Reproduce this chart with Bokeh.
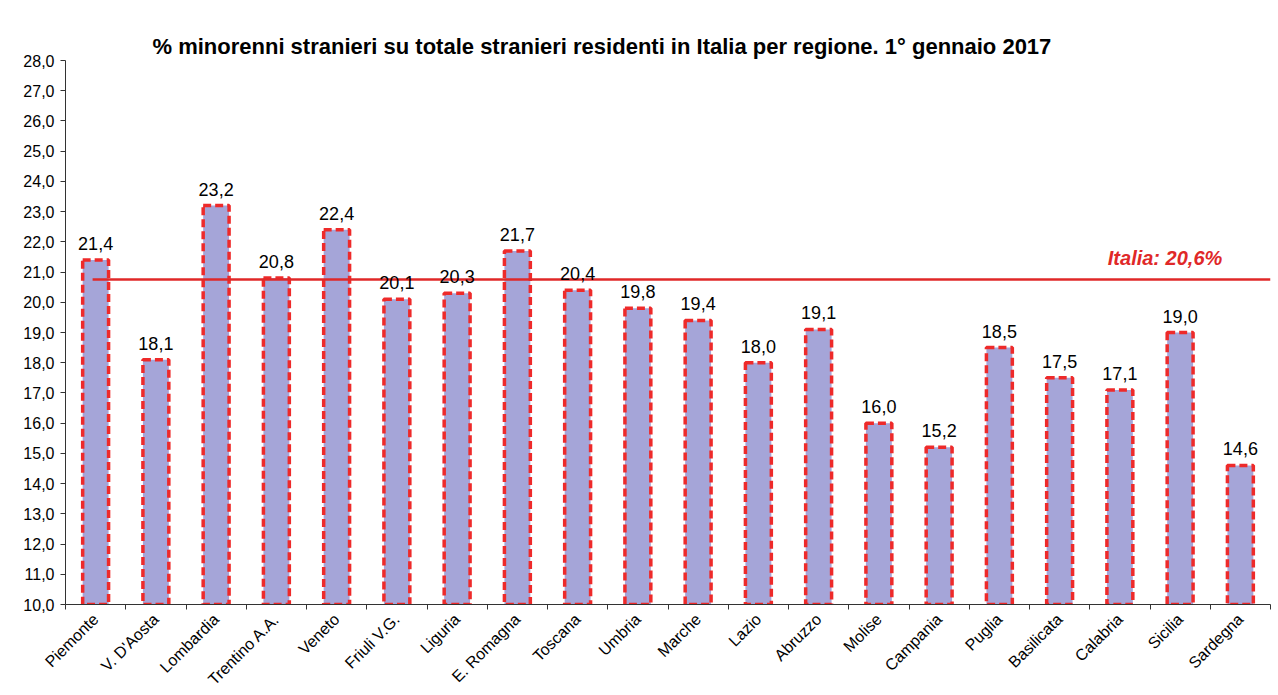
from bokeh.plotting import figure
from bokeh.models import ColumnDataSource, FixedTicker, CustomJSTickFormatter, Label, Range1d
from bokeh.embed import file_html
from bokeh.resources import INLINE
from bokeh.core.properties import value
import math

regions = ["Piemonte", "V. D'Aosta", "Lombardia", "Trentino A.A.", "Veneto", "Friuli V.G.",
           "Liguria", "E. Romagna", "Toscana", "Umbria", "Marche", "Lazio", "Abruzzo",
           "Molise", "Campania", "Puglia", "Basilicata", "Calabria", "Sicilia", "Sardegna"]
values = [21.4, 18.1, 23.2, 20.8, 22.4, 20.1, 20.3, 21.7, 20.4, 19.8, 19.4, 18.0, 19.1,
          16.0, 15.2, 18.5, 17.5, 17.1, 19.0, 14.6]
italia_value = 20.6
italia_line_level = 20.75
title_text = "% minorenni stranieri su totale stranieri residenti in Italia per regione. 1° gennaio 2017"

n = len(regions)
xs = [i + 0.5 for i in range(n)]
src = ColumnDataSource(dict(x=xs, top=values, bottom=[10.0] * n,
                            lab=[f"{v:.1f}".replace(".", ",") for v in values]))

p = figure(frame_width=1205, frame_height=544, output_backend="svg", toolbar_location=None,
           x_range=Range1d(0, n), y_range=Range1d(10, 28),
           min_border_left=65, min_border_right=2, min_border_top=60, min_border_bottom=4)
p.title.text = title_text
p.title.text_font = "Liberation Sans"
p.title.text_font_size = "22px"
p.title.text_font_style = "bold"
p.title.text_color = "black"
p.title.align = "left"
p.title.offset = 87
p.title.standoff = 4

p.outline_line_color = None
p.xgrid.visible = False
p.ygrid.visible = False
p.background_fill_color = "white"
p.border_fill_color = "white"

p.vbar(x="x", top="top", bottom="bottom", width=0.43, source=src,
       fill_color="#a5a5d8", line_color="#ee2a2a", line_width=3.5, line_dash="8 4")

p.line(x=[0.45, n], y=[italia_line_level, italia_line_level], line_color="#e02828", line_width=2.5)

p.text(x="x", y="top", text="lab", source=src, text_align="center", text_baseline="bottom",
       y_offset=-10, text_font=value("Liberation Sans"), text_font_size="18px", text_color="black")

lab_it = Label(x=19.2, y=italia_line_level, text="Italia: " + f"{italia_value:.1f}".replace(".", ",") + "%",
               text_align="right", text_baseline="bottom", y_offset=11,
               text_font="Liberation Sans", text_font_size="20px", text_font_style="bold italic",
               text_color="#e02828")
p.add_layout(lab_it)

# y axis
p.yaxis.ticker = FixedTicker(ticks=list(range(10, 29)))
p.yaxis.formatter = CustomJSTickFormatter(code="return tick.toFixed(1).replace('.', ',');")
p.yaxis.major_label_text_font = "Liberation Sans"
p.yaxis.major_label_text_font_size = "16px"
p.yaxis.major_label_text_color = "black"
p.yaxis.axis_line_color = "#333333"
p.yaxis.major_tick_line_color = "#333333"
p.yaxis.major_tick_in = 0
p.yaxis.major_tick_out = 5
p.yaxis.minor_tick_line_color = None
p.yaxis.major_label_standoff = 6

# x axis
p.xaxis.ticker = FixedTicker(ticks=xs, minor_ticks=list(range(0, n + 1)))
p.xaxis.major_label_overrides = {x: r for x, r in zip(xs, regions)}
p.xaxis.major_label_orientation = math.pi / 4
p.xaxis.major_label_text_font = "Liberation Sans"
p.xaxis.major_label_text_font_size = "16px"
p.xaxis.major_label_text_color = "black"
p.xaxis.axis_line_color = "#333333"
p.xaxis.major_tick_line_color = None
p.xaxis.minor_tick_line_color = "#333333"
p.xaxis.minor_tick_in = 0
p.xaxis.minor_tick_out = 5
p.xaxis.major_label_standoff = 6

open("out.html", "w").write(file_html(p, INLINE))
